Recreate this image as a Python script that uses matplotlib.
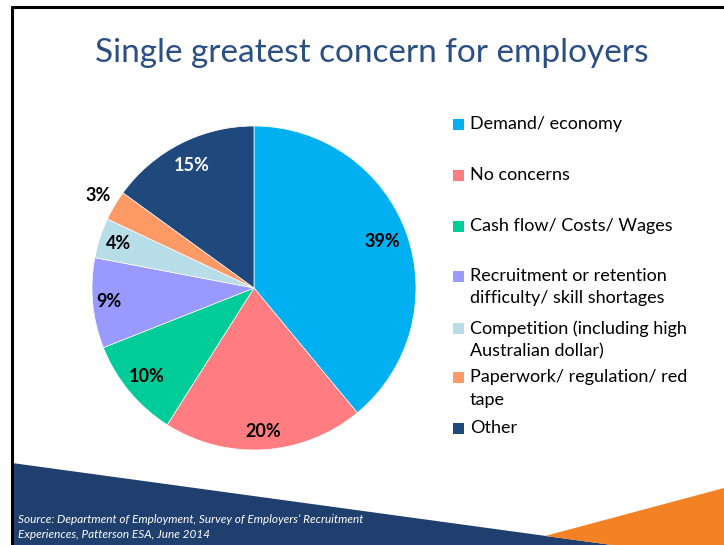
import numpy as np
import matplotlib
matplotlib.use('Agg')
import matplotlib.pyplot as plt
from matplotlib.patches import Polygon, Rectangle

plt.rcParams['font.family'] = ['Lato', 'DejaVu Sans']

# survey shares, clockwise from 12 o'clock
categories = ['Demand/ economy', 'No concerns', 'Cash flow/ Costs/ Wages',
              'Recruitment or retention\ndifficulty/ skill shortages',
              'Competition (including high\nAustralian dollar)',
              'Paperwork/ regulation/ red\ntape', 'Other']
shares = [39, 20, 10, 9, 4, 3, 15]
colors = ['#00B0F0', '#FF7C80', '#00CC99', '#9999FF', '#B7DEE8', '#FF9966', '#1F497D']

title = 'Single greatest concern for employers'
source = ("Source: Department of Employment, Survey of Employers\u2019 Recruitment\n"
          "Experiences, Patterson ESA, June 2014")

W, H = 724, 545
fig = plt.figure(figsize=(W / 100, H / 100), dpi=100)

# slide background in pixel coords
bg = fig.add_axes([0, 0, 1, 1])
bg.set_xlim(0, W)
bg.set_ylim(H, 0)
bg.axis('off')

# dark blue band along the bottom and orange corner
bg.add_patch(Polygon([(12, 463), (612, H), (12, H)], closed=True,
                     facecolor='#1F3F6E', edgecolor='none'))
bg.add_patch(Polygon([(545, 536), (W, 488), (W, H), (612, H)], closed=True,
                     facecolor='#F28224', edgecolor='none'))

# slide frame (top and left edges)
bg.plot([11, W], [6.5, 6.5], color='black', lw=2.2, solid_capstyle='butt')
bg.plot([11.5, 11.5], [6, H], color='black', lw=2.2, solid_capstyle='butt')

bg.text(372, 53, title, ha='center', va='center', fontsize=24,
        color='#2B4F82')
bg.text(18, 527, source, ha='left', va='center', fontsize=8.5, style='italic',
        color='white', linespacing=1.5)

# legend drawn by hand so the wrapped rows keep their spacing
legend_y = [124, 175, 226, 276, 328, 377, 428]
for lab, col, y in zip(categories, colors, legend_y):
    bg.add_patch(Rectangle((453, y - 5.5), 11, 11, facecolor=col, edgecolor='none'))
    bg.text(470, y - 8, lab, ha='left', va='top', fontsize=13,
            color='black', linespacing=1.5)

# pie
cx, cy, r = 254, 288, 162
ax = fig.add_axes([(cx - r) / W, (H - cy - r) / H, 2 * r / W, 2 * r / H])
wedges, _ = ax.pie(shares, colors=colors, startangle=90, counterclock=False,
                   radius=1, wedgeprops=dict(linewidth=0.5, edgecolor='white'))
ax.set_xlim(-1, 1)
ax.set_ylim(-1, 1)
ax.axis('off')

label_dist = [0.84, 0.89, 0.86, 0.90, 0.88, 1.12, 0.85]
label_col = ['black'] * 6 + ['white']
for w, v, d, c in zip(wedges, shares, label_dist, label_col):
    ang = np.deg2rad((w.theta1 + w.theta2) / 2)
    ax.text(d * np.cos(ang), d * np.sin(ang), '%d%%' % v, ha='center', va='center',
            fontsize=13, fontweight='bold', color=c)

fig.savefig('out.png', dpi=100)
